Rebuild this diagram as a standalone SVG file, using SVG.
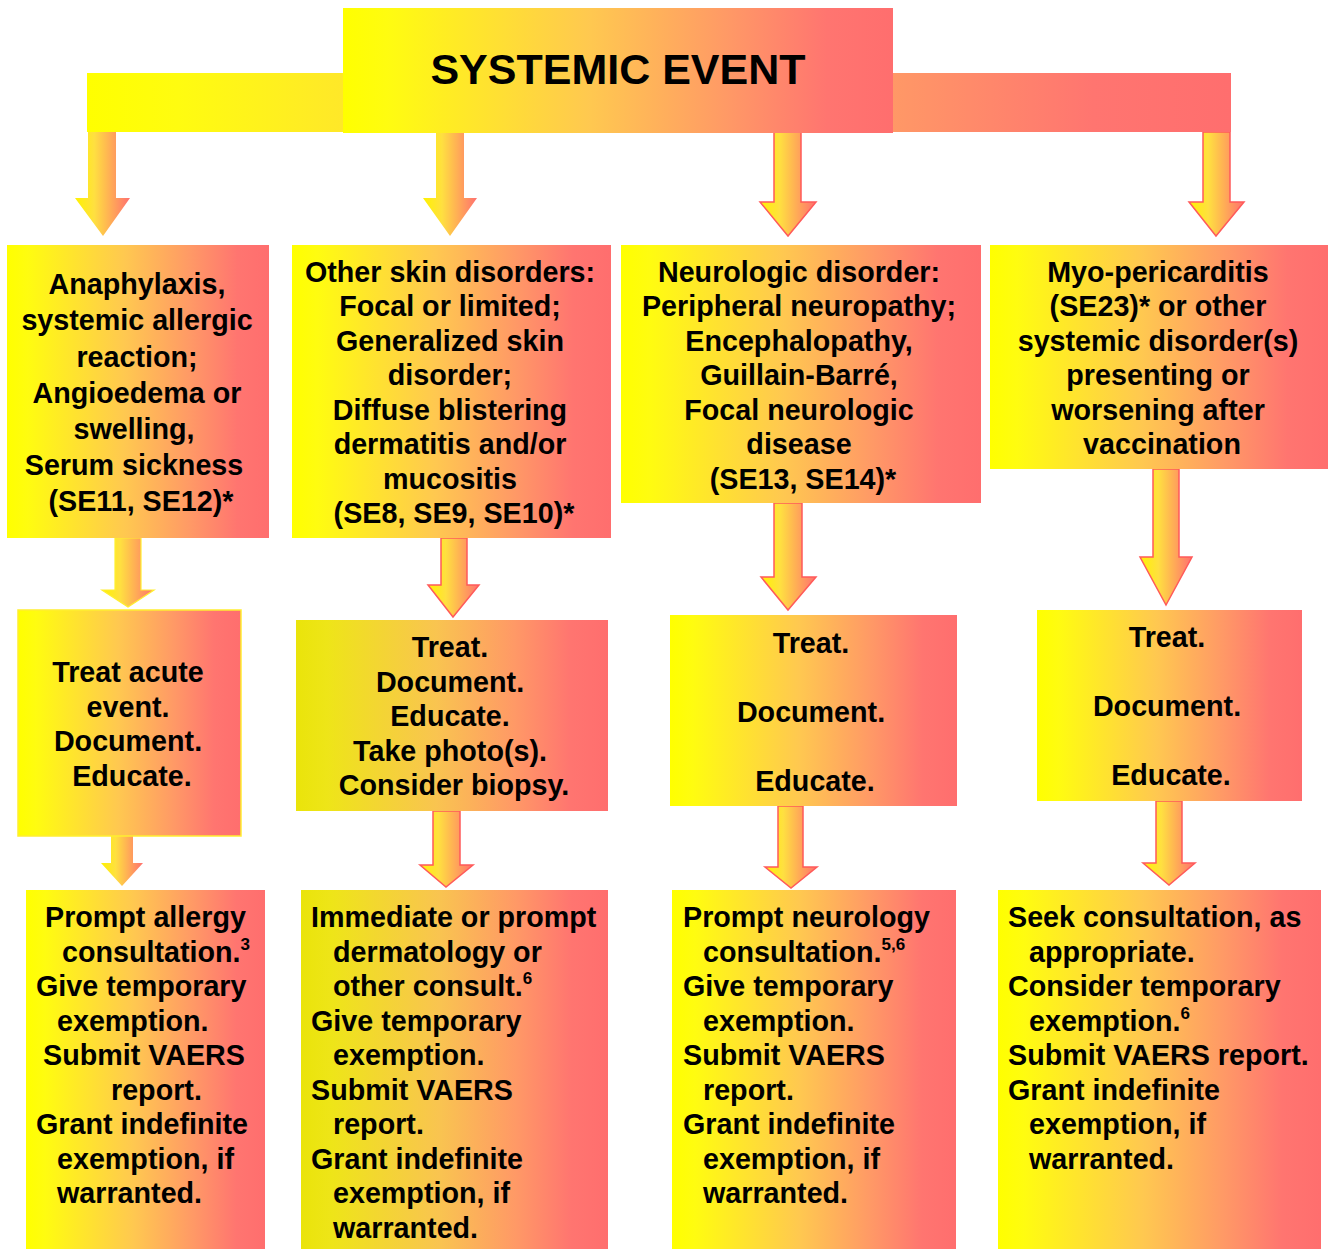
<svg xmlns="http://www.w3.org/2000/svg" width="1332" height="1249" viewBox="0 0 1332 1249">
<defs>
<linearGradient id="g" x1="0" y1="0" x2="1" y2="0">
<stop offset="0" stop-color="#FFFF00"/>
<stop offset="0.08" stop-color="#FFFC10"/>
<stop offset="0.45" stop-color="#FFC850"/>
<stop offset="0.7" stop-color="#FF9966"/>
<stop offset="0.88" stop-color="#FF7570"/>
<stop offset="1" stop-color="#FF6E6E"/>
</linearGradient>
<linearGradient id="g2" x1="0" y1="0" x2="1" y2="0">
<stop offset="0" stop-color="#EAE40A"/>
<stop offset="0.1" stop-color="#EEE518"/>
<stop offset="0.45" stop-color="#F9C450"/>
<stop offset="0.7" stop-color="#FF9966"/>
<stop offset="0.88" stop-color="#FF7570"/>
<stop offset="1" stop-color="#FF6E6E"/>
</linearGradient>
<linearGradient id="ga" x1="0" y1="0" x2="1" y2="0">
<stop offset="0" stop-color="#FFF200"/>
<stop offset="0.35" stop-color="#FFE040"/>
<stop offset="1" stop-color="#FF7070"/>
</linearGradient>
<style>
.t{font-family:"Liberation Sans",Arial,sans-serif;font-weight:bold;font-size:28.7px;fill:#000}
.c{text-anchor:middle}
.title{font-size:43px}
.sup{font-size:17px}
.arr{fill:url(#ga)}
.rs{stroke:#FF5A5A;stroke-width:1.5}
.ys{stroke:#FFEE30;stroke-width:1.2}
</style>
</defs>
<rect width="1332" height="1249" fill="#FFFFFF"/>

<g id="connectors">
<polygon class="arr" points="88,131 116,131 116,198 130,198 103,236 75,198 88,198"/>
<polygon class="arr" points="436,131 464,131 464,198 477,198 450,236 423,198 436,198"/>
<polygon class="arr rs" points="774,132 801,132 801,202 816,202 788,236 760,202 774,202"/>
<polygon class="arr rs" points="1203,132 1230,132 1230,202 1244,202 1216,236 1189,202 1203,202"/>
<polygon class="arr ys" points="115,538 141,538 141,590 154,590 128,607 102,590 115,590"/>
<polygon class="arr" points="111,836 133,836 133,863 143,863 122,886 101,863 111,863"/>
<polygon class="arr rs" points="441,538 467,538 467,585 479,585 453,617 428,585 441,585"/>
<polygon class="arr rs" points="433,811 460,811 460,865 473,865 446,887 420,865 433,865"/>
<polygon class="arr rs" points="774,503 802,503 802,577 816,577 788,610 761,577 774,577"/>
<polygon class="arr rs" points="778,806 803,806 803,867 817,867 791,888 765,867 778,867"/>
<polygon class="arr rs" points="1153,469 1179,469 1179,557 1192,557 1166,605 1140,557 1153,557"/>
<polygon class="arr rs" points="1156,801 1182,801 1182,863 1195,863 1169,885 1143,863 1156,863"/>
</g>

<g id="top-bar">
<rect x="87" y="73" width="1144" height="59" fill="url(#g)"/>
</g>
<g id="systemic-event">
<rect x="343" y="8" width="550" height="125" fill="url(#g)"/>
<text class="t c title" x="618" y="84">SYSTEMIC EVENT</text>
</g>

<g id="anaphylaxis">
<rect x="7" y="245" width="262" height="293" fill="url(#g)"/>
<text class="t c">
<tspan x="141" y="294">Anaphylaxis,</tspan>
<tspan x="141" y="330">systemic allergic</tspan>
<tspan x="141" y="367">reaction;</tspan>
<tspan x="141" y="403">Angioedema or</tspan>
<tspan x="138" y="439">swelling,</tspan>
<tspan x="138" y="475">Serum sickness</tspan>
<tspan x="141" y="511">(SE11, SE12)*</tspan>
</text>
</g>

<g id="skin-disorders">
<rect x="292" y="245" width="319" height="293" fill="url(#g)"/>
<text class="t c">
<tspan x="454" y="282">Other skin disorders:</tspan>
<tspan x="454" y="316">Focal or limited;</tspan>
<tspan x="454" y="351">Generalized skin</tspan>
<tspan x="454" y="385">disorder;</tspan>
<tspan x="454" y="420">Diffuse blistering</tspan>
<tspan x="454" y="454">dermatitis and/or</tspan>
<tspan x="454" y="489">mucositis</tspan>
<tspan x="454" y="523">(SE8, SE9, SE10)*</tspan>
</text>
</g>

<g id="neurologic-disorder">
<rect x="621" y="245" width="360" height="258" fill="url(#g)"/>
<text class="t c">
<tspan x="803" y="282">Neurologic disorder:</tspan>
<tspan x="803" y="316">Peripheral neuropathy;</tspan>
<tspan x="803" y="351">Encephalopathy,</tspan>
<tspan x="803" y="385">Guillain-Barré,</tspan>
<tspan x="803" y="420">Focal neurologic</tspan>
<tspan x="803" y="454">disease</tspan>
<tspan x="803" y="489">(SE13, SE14)*</tspan>
</text>
</g>

<g id="myo-pericarditis">
<rect x="990" y="245" width="338" height="224" fill="url(#g)"/>
<text class="t c">
<tspan x="1162" y="282">Myo-pericarditis</tspan>
<tspan x="1162" y="316">(SE23)* or other</tspan>
<tspan x="1162" y="351">systemic disorder(s)</tspan>
<tspan x="1162" y="385">presenting or</tspan>
<tspan x="1162" y="420">worsening after</tspan>
<tspan x="1162" y="454">vaccination</tspan>
</text>
</g>

<g id="treat-acute">
<rect x="18" y="610" width="223" height="226" fill="url(#g)" stroke="#FFEE30" stroke-width="1.5"/>
<text class="t c">
<tspan x="132" y="682">Treat acute</tspan>
<tspan x="132" y="717">event.</tspan>
<tspan x="132" y="751">Document.</tspan>
<tspan x="132" y="786">Educate.</tspan>
</text>
</g>

<g id="treat-skin">
<rect x="296" y="620" width="312" height="191" fill="url(#g2)"/>
<text class="t c">
<tspan x="454" y="657">Treat.</tspan>
<tspan x="454" y="692">Document.</tspan>
<tspan x="454" y="726">Educate.</tspan>
<tspan x="454" y="761">Take photo(s).</tspan>
<tspan x="454" y="795">Consider biopsy.</tspan>
</text>
</g>

<g id="treat-neuro">
<rect x="670" y="615" width="287" height="191" fill="url(#g)"/>
<text class="t c">
<tspan x="815" y="653">Treat.</tspan>
<tspan x="815" y="722">Document.</tspan>
<tspan x="815" y="791">Educate.</tspan>
</text>
</g>

<g id="treat-myo">
<rect x="1037" y="610" width="265" height="191" fill="url(#g)"/>
<text class="t c">
<tspan x="1171" y="647">Treat.</tspan>
<tspan x="1171" y="716">Document.</tspan>
<tspan x="1171" y="785">Educate.</tspan>
</text>
</g>

<g id="allergy-consult">
<rect x="26" y="890" width="239" height="359" fill="url(#g)"/>
<text class="t">
<tspan x="45" y="927">Prompt allergy</tspan>
<tspan x="62" y="962">consultation.</tspan><tspan class="sup" dy="-12">3</tspan>
<tspan x="36" y="996">Give temporary</tspan>
<tspan x="57" y="1031">exemption.</tspan>
<tspan x="43" y="1065">Submit VAERS</tspan>
<tspan x="111" y="1100">report.</tspan>
<tspan x="36" y="1134">Grant indefinite</tspan>
<tspan x="57" y="1169">exemption, if</tspan>
<tspan x="57" y="1203">warranted.</tspan>
</text>
</g>

<g id="derm-consult">
<rect x="301" y="890" width="307" height="359" fill="url(#g2)"/>
<text class="t">
<tspan x="311" y="927">Immediate or prompt</tspan>
<tspan x="333" y="962">dermatology or</tspan>
<tspan x="333" y="996">other consult.</tspan><tspan class="sup" dy="-12">6</tspan>
<tspan x="311" y="1031">Give temporary</tspan>
<tspan x="333" y="1065">exemption.</tspan>
<tspan x="311" y="1100">Submit VAERS</tspan>
<tspan x="333" y="1134">report.</tspan>
<tspan x="311" y="1169">Grant indefinite</tspan>
<tspan x="333" y="1203">exemption, if</tspan>
<tspan x="333" y="1238">warranted.</tspan>
</text>
</g>

<g id="neuro-consult">
<rect x="672" y="890" width="284" height="359" fill="url(#g)"/>
<text class="t">
<tspan x="683" y="927">Prompt neurology</tspan>
<tspan x="703" y="962">consultation.</tspan><tspan class="sup" dy="-12">5,6</tspan>
<tspan x="683" y="996">Give temporary</tspan>
<tspan x="703" y="1031">exemption.</tspan>
<tspan x="683" y="1065">Submit VAERS</tspan>
<tspan x="703" y="1100">report.</tspan>
<tspan x="683" y="1134">Grant indefinite</tspan>
<tspan x="703" y="1169">exemption, if</tspan>
<tspan x="703" y="1203">warranted.</tspan>
</text>
</g>

<g id="seek-consult">
<rect x="998" y="890" width="323" height="359" fill="url(#g)"/>
<text class="t">
<tspan x="1008" y="927">Seek consultation, as</tspan>
<tspan x="1029" y="962">appropriate.</tspan>
<tspan x="1008" y="996">Consider temporary</tspan>
<tspan x="1029" y="1031">exemption.</tspan><tspan class="sup" dy="-12">6</tspan>
<tspan x="1008" y="1065">Submit VAERS report.</tspan>
<tspan x="1008" y="1100">Grant indefinite</tspan>
<tspan x="1029" y="1134">exemption, if</tspan>
<tspan x="1029" y="1169">warranted.</tspan>
</text>
</g>
</svg>
